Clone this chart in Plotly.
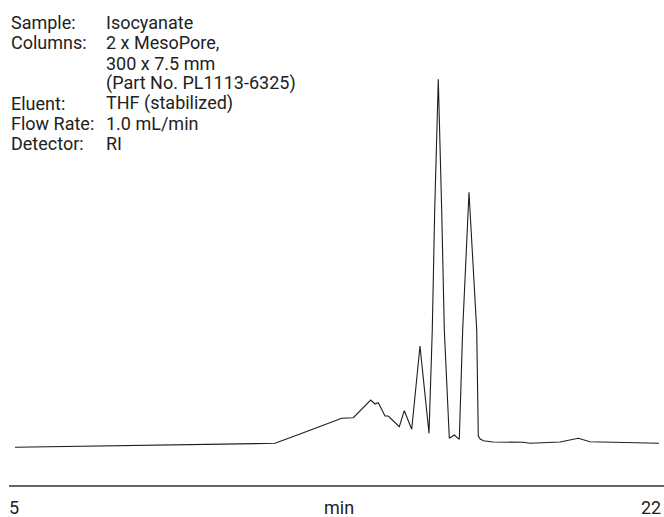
import plotly.graph_objects as go

# Retention time (min) and detector response (arbitrary units, tallest peak = 100)
time_min = [5.156, 11.904, 12.553, 13.246, 13.331, 13.635, 13.936, 14.388, 14.499,
            14.585, 14.759, 14.844, 15.130, 15.260, 15.452, 15.667, 15.901, 15.986,
            16.049, 16.142, 16.230, 16.298, 16.428, 16.557, 16.687, 16.775, 16.939,
            17.139, 17.180, 17.224, 17.310, 17.562, 18.340, 18.522, 19.301, 19.560,
            19.776, 20.079, 21.870]
response = [0.00, 1.09, 3.61, 6.33, 6.60, 7.88, 8.04, 12.85, 11.77,
            12.12, 8.51, 8.51, 5.60, 9.95, 4.89, 27.53, 3.80, 31.88,
            64.48, 100.00, 64.48, 31.88, 2.45, 3.34, 2.17, 31.88, 69.29,
            31.88, 3.07, 2.30, 1.79, 1.44, 1.36, 1.09, 1.44, 1.98,
            2.45, 1.52, 1.09]

x_range = [5, 22]
x_tick_labels = ["5", "22"]
x_title = "min"

info_labels = ["Sample:", "Columns:", "", "", "Eluent:", "Flow Rate:", "Detector:"]
info_values = ["Isocyanate", "2 x MesoPore,", "300 x 7.5 mm", "(Part No. PL1113-6325)",
               "THF (stabilized)", "1.0 mL/min", "RI"]

W, H = 664, 517
FONT = "Roboto, Arial, sans-serif"
FS = 18
TXT = "#222222"

fig = go.Figure()
fig.add_trace(go.Scatter(x=time_min, y=response, mode="lines",
                         line=dict(color="#1e1e1e", width=1.1),
                         hoverinfo="skip", showlegend=False))

def px(x):
    return x / W

def py(y):
    return 1 - y / H

def note(x, y, text, anchor="left"):
    return dict(x=px(x), y=py(y), xref="paper", yref="paper", text=text,
                showarrow=False, xanchor=anchor, yanchor="middle",
                font=dict(family=FONT, size=FS, color=TXT))

annotations = []
line_y0, line_dy = 22.7, 20.2
for i, (lab, val) in enumerate(zip(info_labels, info_values)):
    yy = line_y0 + i * line_dy
    if lab:
        annotations.append(note(9, yy, lab))
    annotations.append(note(104, yy, val))

annotations.append(note(7, 507.5, x_tick_labels[0], "left"))
annotations.append(note(663, 507.5, x_tick_labels[1], "right"))
annotations.append(note(339, 507.5, x_title, "center"))

fig.update_layout(
    width=W, height=H,
    margin=dict(l=0, r=0, t=0, b=0),
    paper_bgcolor="white", plot_bgcolor="white",
    xaxis=dict(domain=[9 / W, 1], range=x_range, showgrid=False,
               zeroline=False, showticklabels=False, ticks="",
               showline=True, linecolor="#666666", linewidth=1.5),
    yaxis=dict(domain=[32 / H, 1], range=[-10.24, 121.55], visible=False),
    annotations=annotations,
)

fig.write_html("out.html",
               config={"displayModeBar": False},
               post_script="document.body.style.margin='0px';document.body.style.overflow='hidden';")
